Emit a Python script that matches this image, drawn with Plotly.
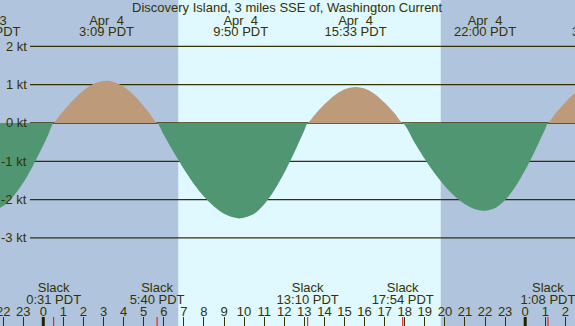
import plotly.graph_objects as go

# ---- data (hours after Apr 4 00:00 PDT; knots, + flood / - ebb) ----
hours = [-3, -2.68, -2.5, -2, -1.5, -1, -0.5, 0, 0.25, 0.517, 0.75, 1, 1.5, 2, 2.5, 3.15,
         3.5, 4, 4.5, 5, 5.25, 5.667, 6, 6.5, 7, 7.5, 8, 8.5, 9, 9.5, 9.833, 10.5, 11,
         11.5, 12, 12.5, 13, 13.167, 13.5, 14, 14.5, 15, 15.55, 16, 16.5, 17, 17.5, 17.9,
         18.5, 19, 19.5, 20, 20.5, 21, 21.5, 22, 22.5, 23, 23.5, 24, 24.5, 25, 25.133,
         25.5, 26, 26.5, 27, 27.7]
speed_kt = [-2.27, -2.30, -2.29, -2.17, -1.92, -1.56, -1.10, -0.58, -0.30, 0, 0.15, 0.31,
            0.61, 0.85, 1.02, 1.10, 1.07, 0.95, 0.73, 0.44, 0.28, 0, -0.31, -0.77, -1.20,
            -1.59, -1.92, -2.18, -2.37, -2.47, -2.49, -2.37, -2.12, -1.76, -1.30, -0.77,
            -0.19, 0, 0.20, 0.49, 0.72, 0.88, 0.94, 0.90, 0.76, 0.53, 0.25, 0, -0.52,
            -0.94, -1.32, -1.65, -1.92, -2.12, -2.25, -2.29, -2.22, -2.01, -1.67, -1.23,
            -0.71, -0.15, 0, 0.24, 0.54, 0.79, 0.96, 1.06]

max_hours = [-2.68, 3.15, 9.833, 15.55, 22.0, 27.7]
max_dates = ["Apr\u00a0 3", "Apr\u00a0 4", "Apr\u00a0 4", "Apr\u00a0 4", "Apr\u00a0 4", "Apr\u00a0 5"]
max_times = ["21:19 PDT", "3:09 PDT", "9:50 PDT", "15:33 PDT", "22:00 PDT", "3:42 PDT"]

slack_hours = [0.517, 5.667, 13.167, 17.9, 25.133]
slack_times = ["0:31 PDT", "5:40 PDT", "13:10 PDT", "17:54 PDT", "1:08 PDT"]

sunrise, sunset = 6.72, 19.8
midnights = [0, 24]
kt_levels = [2, 1, 0, -1, -2, -3]
tick_hours = list(range(-2, 27))
tick_text = [str(h % 24) for h in tick_hours]

title = "Discovery Island, 3 miles SSE of, Washington Current"

# ---- styles ----
W, H = 575, 326
NIGHT = "#b0c4de"
DAY = "#e0f8ff"
FLOOD = "#bc9a7a"
EBB = "#509672"
INK = "#333300"
FONT = "Liberation Sans"
xrange_ = [-2.156, 26.479]
yrange_ = [-5.30, 3.211]

flood = [max(v, 0) for v in speed_kt]
ebb = [min(v, 0) for v in speed_kt]

fig = go.Figure()
fig.add_trace(go.Scatter(x=hours, y=ebb, mode="lines",
                         line=dict(width=0, shape="spline", smoothing=0.8),
                         fill="tozeroy", fillcolor=EBB, hoverinfo="skip"))
fig.add_trace(go.Scatter(x=hours, y=flood, mode="lines",
                         line=dict(width=0, shape="spline", smoothing=0.8),
                         fill="tozeroy", fillcolor=FLOOD, hoverinfo="skip"))

txtfont = dict(family=FONT, size=13, color=INK)


def text_row(xs, labels, ypix):
    # text placed on a pixel-like overlay axis (y2 = pixels from top)
    fig.add_trace(go.Scatter(x=xs, y=[ypix] * len(xs), yaxis="y2", mode="text",
                             text=labels, textposition="middle center", cliponaxis=True,
                             textfont=txtfont, hoverinfo="skip"))


text_row(max_hours, max_dates, 21.3)
text_row(max_hours, max_times, 33)
text_row(slack_hours, ["Slack"] * len(slack_hours), 288.6)
text_row(slack_hours, slack_times, 300.6)
text_row(tick_hours, tick_text, 313)

shapes = [
    dict(type="rect", xref="x", yref="paper", x0=xrange_[0] - 1, x1=sunrise, y0=0, y1=1,
         fillcolor=NIGHT, line=dict(width=0), layer="below"),
    dict(type="rect", xref="x", yref="paper", x0=sunrise, x1=sunset, y0=0, y1=1,
         fillcolor=DAY, line=dict(width=0), layer="below"),
    dict(type="rect", xref="x", yref="paper", x0=sunset, x1=xrange_[1] + 1, y0=0, y1=1,
         fillcolor=NIGHT, line=dict(width=0), layer="below"),
]
for k in kt_levels:
    shapes.append(dict(type="line", xref="paper", yref="y", x0=30 / W, x1=1, y0=k, y1=k,
                       line=dict(color=INK, width=1.3), layer="below"))
for m in midnights:
    shapes.append(dict(type="line", xref="x", yref="paper", x0=m, x1=m, y0=0, y1=9 / H,
                       line=dict(color="#222200", width=3)))
for s in slack_hours:
    shapes.append(dict(type="line", xref="x", yref="paper", x0=s, x1=s, y0=0, y1=9 / H,
                       line=dict(color="red", width=1)))

annotations = [dict(text=title, xref="paper", yref="paper", x=0.5, y=1, xanchor="center",
                    yanchor="top", yshift=2, showarrow=False, font=txtfont)]
for k in kt_levels:
    annotations.append(dict(text=f"{k} kt", xref="paper", yref="y", x=29 / W, y=k,
                            xanchor="right", yanchor="middle", showarrow=False,
                            font=txtfont))

fig.update_layout(
    width=W, height=H, margin=dict(l=0, r=0, t=0, b=0, pad=0, autoexpand=False),
    paper_bgcolor=NIGHT, plot_bgcolor=NIGHT, showlegend=False,
    shapes=shapes, annotations=annotations,
    xaxis=dict(range=xrange_, tickvals=tick_hours, ticks="inside", showticklabels=False,
               ticklen=9, tickwidth=1, tickcolor=INK, showgrid=False,
               zeroline=False, showline=False, fixedrange=True, automargin=False),
    yaxis=dict(range=yrange_, visible=False, fixedrange=True, automargin=False),
    yaxis2=dict(range=[H, 0], overlaying="y", visible=False, fixedrange=True),
)

fig.write_html("out.html", config={"displayModeBar": False},
               post_script="document.body.style.margin='0';document.body.style.overflow='hidden';")
